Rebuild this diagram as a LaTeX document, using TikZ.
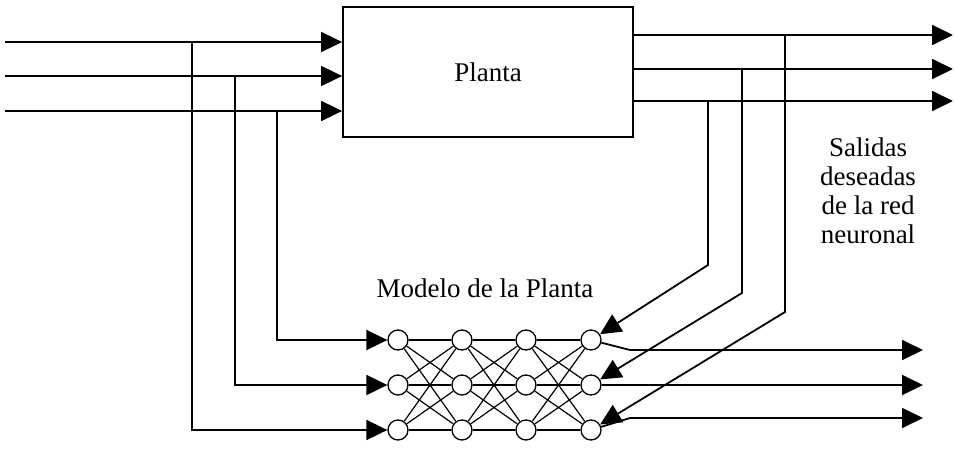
\documentclass[tikz,border=0pt]{standalone}
\usepackage{fontspec}
\setmainfont{Liberation Serif}
\usetikzlibrary{arrows.meta,positioning}

\begin{document}
\begin{tikzpicture}[x=1pt,y=-1pt,
  bloque/.style={draw,line width=1.8pt,minimum width=290pt,minimum height=130pt,font=\fontsize{27}{29}\selectfont},
  neurona/.style={draw,circle,line width=1.3pt,minimum size=20pt,inner sep=0pt,fill=white},
  senal/.style={line width=1.8pt},
  flecha/.style={senal,-{Triangle[length=21pt,width=20pt]}},
  peso/.style={line width=1.2pt},
  etiqueta/.style={font=\fontsize{27}{29}\selectfont,align=center}]
  \useasboundingbox (0,0) rectangle (955,452);
  \node[bloque] (planta) at (488,72) {Planta};

  % red neuronal
  \foreach \c/\x in {1/398,2/462,3/526,4/591}
    \foreach \f/\y in {1/340,2/385,3/430}
      \node[neurona] (n\c\f) at (\x,\y) {};
  \foreach \c/\d in {1/2,2/3,3/4}
    \foreach \f in {1,2,3}
      \foreach \g in {1,2,3}
        \draw[peso] (n\c\f) -- (n\d\g);

  % entradas
  \coordinate (e1) at (5,42);
  \coordinate (e2) at (5,76);
  \coordinate (e3) at (5,111);
  \foreach \i in {1,2,3}
    \draw[flecha] (e\i) -- (e\i -| planta.west);
  \coordinate (d1) at (192,42);
  \coordinate (d2) at (235,76);
  \coordinate (d3) at (277,111);
  \draw[flecha] (d1) |- (n13);
  \draw[flecha] (d2) |- (n12);
  \draw[flecha] (d3) |- (n11);

  % salidas de la planta
  \coordinate (s1) at (953,35);
  \coordinate (s2) at (953,69);
  \coordinate (s3) at (953,101);
  \foreach \i in {1,2,3}
    \draw[flecha] (planta.east |- s\i) -- (s\i);
  \coordinate (b1) at (785,35);
  \coordinate (b2) at (742,69);
  \coordinate (b3) at (708,101);
  \draw[flecha] (b3) -- (708,265) -- (n41);
  \draw[flecha] (b2) -- (742,293) -- (n42);
  \draw[flecha] (b1) -- (785,312) -- (n43);

  % salidas de la red
  \coordinate (r1) at (923,350);
  \coordinate (r2) at (923,385);
  \coordinate (r3) at (923,418);
  \draw[flecha] (n41) -- (630,350) -- (r1);
  \draw[flecha] (n42) -- (r2);
  \draw[flecha] (n43) -- (630,418) -- (r3);

  \node[etiqueta] (salidas) at (868,191) {Salidas\\deseadas\\de la red\\neuronal};
  \node[etiqueta] (modelo) at (485,288) {Modelo de la Planta};
\end{tikzpicture}
\end{document}
